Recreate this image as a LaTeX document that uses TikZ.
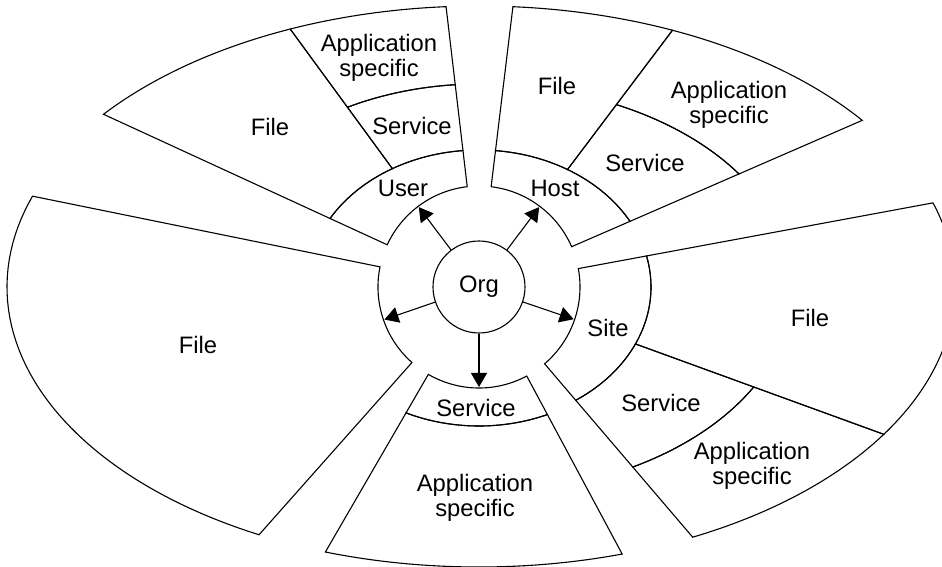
\documentclass[tikz,border=0pt]{standalone}
\usepackage{fontspec}
\setmainfont{Liberation Sans}
\usetikzlibrary{arrows.meta}

% radius of an origin-centred ellipse (semi-axes #2, #3 in hundreds of pt) at polar angle #1
\pgfmathdeclarefunction{ellr}{3}{%
  \pgfmathparse{100*#2*#3/sqrt((#3*cos(#1))^2+(#2*sin(#1))^2)}%
}

% \band{from angle}{to angle}{inner a}{inner b}{outer a}{outer b}
\newcommand\band[6]{%
  \draw[wedge] plot[domain=#1:#2,samples=60] (\x:{ellr(\x,#5,#6)})
    -- plot[domain=#2:#1,samples=60] (\x:{ellr(\x,#3,#4)}) -- cycle;}

\begin{document}
\begin{tikzpicture}[x=1pt,y=1pt,
  wedge/.style={draw=black,line width=1.1pt,line join=miter},
  lbl/.style={font=\fontsize{23.8}{25}\selectfont,align=center,inner sep=0pt},
  link/.style={-{Triangle[length=14pt,width=16pt]},line width=1.1pt}]
\fill[white] (-479,-280) rectangle (463,287);
\clip (-479,-280) rectangle (463,287);

% User wedge
\band{96.7}{155.3}{1.01}{1.01}{1.72}{1.37}
\band{96.7}{126.2}{1.72}{1.37}{2.83}{2.03}
\band{96.7}{126.2}{2.83}{2.03}{4.76}{2.81}
\band{126.2}{155.3}{1.72}{1.37}{4.76}{2.81}

% Host wedge
\band{23.5}{83.1}{1.01}{1.01}{1.72}{1.37}
\band{23.5}{53}{1.72}{1.37}{3.13}{2.03}
\band{23.5}{53}{3.13}{2.03}{4.76}{2.81}
\band{53}{83.1}{1.72}{1.37}{4.76}{2.81}

% Site wedge
\band{-49.5}{10.5}{1.01}{1.01}{1.72}{1.37}
\band{-20}{10.5}{1.72}{1.37}{4.76}{2.80}
\band{-49.5}{-20}{1.72}{1.37}{3.14}{2.065}
\band{-49.5}{-20}{3.14}{2.065}{4.76}{2.80}

% left wedge
\band{168.5}{228.4}{1.01}{1.01}{4.72}{2.80}

% bottom wedge
\band{239.9}{298.2}{1.01}{1.01}{1.72}{1.39}
\band{239.9}{298.2}{1.72}{1.39}{4.76}{2.80}

% centre
\node[lbl,draw,circle,minimum size=92pt,line width=1.1pt] (org) at (0,0) {Org};

\coordinate (tUser) at (127:100);
\coordinate (tHost) at (53:100);
\coordinate (tLeft) at (199:100);
\coordinate (tSite) at (-18.8:100);
\coordinate (tDown) at (270:100);
\draw[link] (org) -- (tUser);
\draw[link] (org) -- (tHost);
\draw[link] (org) -- (tLeft);
\draw[link] (org) -- (tSite);
\draw[link] (org) -- (tDown);

% labels
\node[lbl] (uUser) at (-76,99) {User};
\node[lbl] (uSvc) at (-67,161) {Service};
\node[lbl] (uApp) at (-100,229) {Application\\specific};
\node[lbl] (uFile) at (-209,160) {File};

\node[lbl] (hHost) at (76,99) {Host};
\node[lbl] (hSvc) at (166,124) {Service};
\node[lbl] (hApp) at (250,182.5) {Application\\specific};
\node[lbl] (hFile) at (78,201) {File};

\node[lbl] (sSite) at (129,-41) {Site};
\node[lbl] (sFile) at (331,-31) {File};
\node[lbl] (sSvc) at (182,-116) {Service};
\node[lbl] (sApp) at (273,-179) {Application\\specific};

\node[lbl] (lFile) at (-281,-58) {File};

\node[lbl] (bSvc) at (-3,-121) {Service};
\node[lbl] (bApp) at (-4,-211) {Application\\specific};
\end{tikzpicture}
\end{document}
